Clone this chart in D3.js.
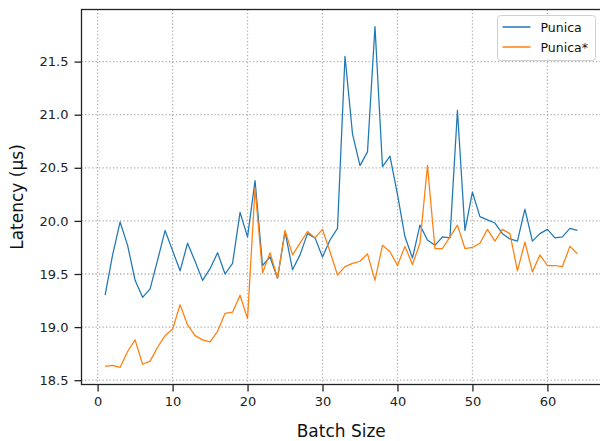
<!DOCTYPE html>
<html>
<head>
<meta charset="utf-8">
<script src="https://cdn.jsdelivr.net/npm/d3@7"></script>
<style>
  body { margin: 0; background: #fff; }
  svg { display: block; font-family: "DejaVu Sans", sans-serif; }
</style>
</head>
<body>
<div id="chart"></div>
<script>
// Batch sizes 1..64
var batchSizes = [1,2,3,4,5,6,7,8,9,10,11,12,13,14,15,16,17,18,19,20,21,22,23,24,25,26,27,28,29,30,31,32,
                  33,34,35,36,37,38,39,40,41,42,43,44,45,46,47,48,49,50,51,52,53,54,55,56,57,58,59,60,61,62,63,64];

// Latency in microseconds
var punica = [19.30,19.68,19.99,19.77,19.44,19.28,19.36,19.63,19.91,19.72,19.53,19.79,19.62,19.44,19.55,19.70,
              19.50,19.60,20.08,19.85,20.38,19.58,19.66,19.46,19.90,19.54,19.68,19.88,19.84,19.66,19.82,19.93,
              21.55,20.82,20.52,20.65,21.83,20.51,20.61,20.25,19.85,19.65,19.96,19.82,19.77,19.85,19.84,21.04,
              19.91,20.27,20.04,20.01,19.98,19.88,19.83,19.81,20.11,19.81,19.88,19.92,19.84,19.85,19.93,19.91];

var punicaStar = [18.63,18.64,18.62,18.77,18.88,18.65,18.68,18.81,18.92,18.98,19.21,19.02,18.92,18.88,18.86,18.96,
                  19.13,19.14,19.30,19.08,20.31,19.51,19.70,19.46,19.91,19.68,19.79,19.90,19.84,19.92,19.71,19.49,
                  19.57,19.60,19.62,19.69,19.44,19.77,19.71,19.58,19.76,19.59,19.79,20.52,19.74,19.74,19.85,19.96,
                  19.74,19.75,19.79,19.92,19.81,19.92,19.88,19.53,19.80,19.52,19.68,19.58,19.58,19.57,19.76,19.69];

var seriesNames = ["Punica", "Punica*"];
var seriesColors = ["#1f77b4", "#ff7f0e"];
var xTicks = [0, 10, 20, 30, 40, 50, 60];
var yTicks = [18.5, 19.0, 19.5, 20.0, 20.5, 21.0, 21.5];

// Size of the svg and plot area
var svgWidth = 600;
var svgHeight = 441;
var margin = { left: 81.5, top: 9.5, right: -1, bottom: 56.5 };
var plotWidth = svgWidth - margin.left - margin.right;
var plotHeight = svgHeight - margin.top - margin.bottom;

var svg = d3.select("#chart").append("svg")
            .attr("width", svgWidth)
            .attr("height", svgHeight);

// Domains padded by 5% like matplotlib
var xMin = d3.min(batchSizes), xMax = d3.max(batchSizes);
var xPad = (xMax - xMin) * 0.05;
var allValues = punica.concat(punicaStar);
var yMin = d3.min(allValues), yMax = d3.max(allValues);
var yPad = (yMax - yMin) * 0.05;

var x = d3.scaleLinear().domain([xMin - xPad, xMax + xPad]).range([margin.left, margin.left + plotWidth]);
var y = d3.scaleLinear().domain([yMin - yPad, yMax + yPad]).range([margin.top + plotHeight, margin.top]);

// Dotted grid
var grid = svg.append("g").attr("class", "grid");
grid.selectAll("line.vx")
    .data(xTicks)
    .enter()
    .append("line")
    .attr("x1", function(d) { return x(d); })
    .attr("x2", function(d) { return x(d); })
    .attr("y1", margin.top)
    .attr("y2", margin.top + plotHeight)
    .attr("stroke", "#b0b0b0")
    .attr("stroke-width", 1.3)
    .attr("stroke-dasharray", "1.3,2.2");
grid.selectAll("line.hy")
    .data(yTicks)
    .enter()
    .append("line")
    .attr("x1", margin.left)
    .attr("x2", margin.left + plotWidth)
    .attr("y1", function(d) { return y(d); })
    .attr("y2", function(d) { return y(d); })
    .attr("stroke", "#b0b0b0")
    .attr("stroke-width", 1.3)
    .attr("stroke-dasharray", "1.3,2.2");

// Lines
var series = [punica, punicaStar];
var line = d3.line()
             .x(function(d, i) { return x(batchSizes[i]); })
             .y(function(d) { return y(d); });

svg.selectAll("path.series")
   .data(series)
   .enter()
   .append("path")
   .attr("class", "series")
   .attr("d", function(d) { return line(d); })
   .attr("fill", "none")
   .attr("stroke", function(d, i) { return seriesColors[i]; })
   .attr("stroke-width", 1.25)
   .attr("stroke-linejoin", "round");

// Axes
var xAxis = svg.append("g")
               .attr("transform", "translate(0," + (margin.top + plotHeight) + ")")
               .call(d3.axisBottom(x).tickValues(xTicks).tickSize(7).tickPadding(5).tickFormat(d3.format("d")));
var yAxis = svg.append("g")
               .attr("transform", "translate(" + margin.left + ",0)")
               .call(d3.axisLeft(y).tickValues(yTicks).tickSize(7).tickPadding(6).tickFormat(d3.format(".1f")));

[xAxis, yAxis].forEach(function(ax) {
  ax.selectAll("text").attr("font-size", "13px").attr("font-family", "DejaVu Sans").attr("fill", "#222");
  ax.selectAll("line").attr("stroke", "#222").attr("stroke-width", 1.3);
  ax.select(".domain").remove();
});

// Frame
svg.append("rect")
   .attr("x", margin.left)
   .attr("y", margin.top)
   .attr("width", plotWidth)
   .attr("height", plotHeight)
   .attr("fill", "none")
   .attr("stroke", "#222")
   .attr("stroke-width", 1.3);

// Axis labels
svg.append("text")
   .text("Batch Size")
   .attr("x", margin.left + plotWidth / 2)
   .attr("y", 437)
   .attr("text-anchor", "middle")
   .attr("font-size", "17px")
   .attr("fill", "#111");

svg.append("text")
   .text("Latency (μs)")
   .attr("transform", "translate(23," + (margin.top + plotHeight / 2) + ") rotate(-90)")
   .attr("text-anchor", "middle")
   .attr("font-size", "17px")
   .attr("fill", "#111");

// Legend
var legend = svg.append("g").attr("transform", "translate(497.5,15.5)");
legend.append("rect")
      .attr("width", 98)
      .attr("height", 45)
      .attr("rx", 3)
      .attr("fill", "#fff")
      .attr("fill-opacity", 0.8)
      .attr("stroke", "#d0d0d0");

var items = legend.selectAll("g.item")
                  .data(seriesNames)
                  .enter()
                  .append("g")
                  .attr("transform", function(d, i) { return "translate(0," + (11.5 + i * 20) + ")"; });
items.append("line")
     .attr("x1", 5)
     .attr("x2", 33)
     .attr("stroke", function(d, i) { return seriesColors[i]; })
     .attr("stroke-width", 1.5);
items.append("text")
     .text(function(d) { return d; })
     .attr("x", 43)
     .attr("y", 4.5)
     .attr("font-size", "12.5px")
     .attr("fill", "#111");
</script>
</body>
</html>
